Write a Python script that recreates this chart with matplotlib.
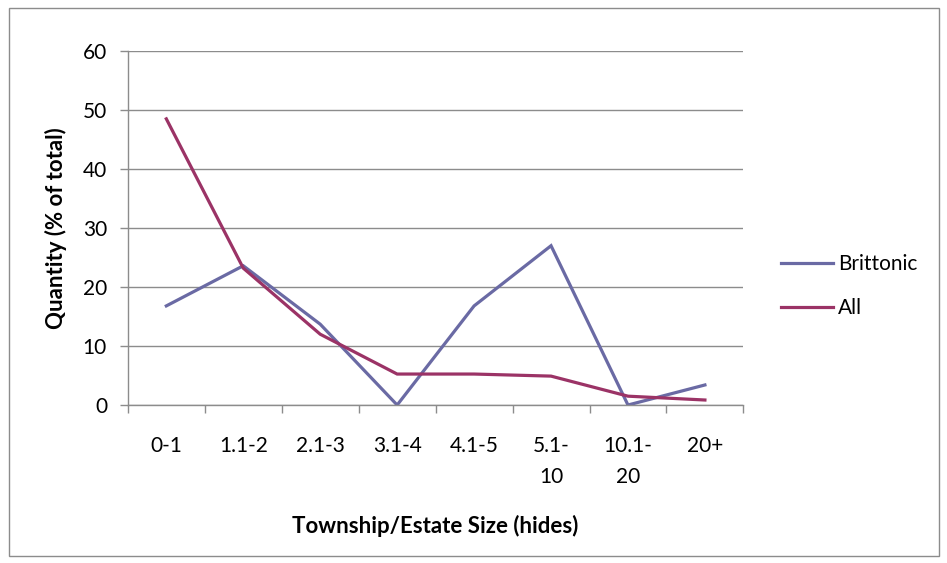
import numpy as np
import matplotlib
matplotlib.use("Agg")
import matplotlib.pyplot as plt
from matplotlib.patches import Rectangle

plt.rcParams['font.family'] = ['Lato', 'DejaVu Sans']

# data
categories = ["0-1", "1.1-2", "2.1-3", "3.1-4", "4.1-5", "5.1-\n10", "10.1-\n20", "20+"]
brittonic = [16.8, 23.6, 13.7, 0.0, 16.8, 27.0, 0.0, 3.4]
all_sites = [48.5, 23.2, 12.0, 5.25, 5.25, 4.9, 1.5, 0.85]

BLUE = "#6A6AA4"
MAROON = "#9B3366"
GRID = "#8C8C8C"
FS = 15

fig = plt.figure(figsize=(9.47, 5.63), dpi=100)
ax = fig.add_axes([0.135, 0.2806, 0.65, 0.6288])

x = np.arange(len(categories))
ax.plot(x, brittonic, color=BLUE, lw=2.3, label="Brittonic", solid_joinstyle="miter")
ax.plot(x, all_sites, color=MAROON, lw=2.3, label="All", solid_joinstyle="miter")

ax.set_xlim(-0.5, len(categories) - 0.5)
ax.set_ylim(0, 60)
ax.set_yticks(np.arange(0, 61, 10))
ax.yaxis.grid(True, color=GRID, lw=1)
ax.set_axisbelow(True)

ax.set_xticks(x)
ax.set_xticklabels(categories, fontsize=FS, linespacing=1.7, va="top")
ax.set_xticks(np.arange(-0.5, len(categories)), minor=True)
ax.tick_params(axis="x", which="major", length=0, pad=22)
ax.tick_params(axis="x", which="minor", length=6, color=GRID, width=1)
ax.tick_params(axis="y", length=6, color=GRID, width=1, labelsize=FS, pad=9)

for side in ("top", "right"):
    ax.spines[side].set_visible(False)
for side in ("left", "bottom"):
    ax.spines[side].set_color(GRID)
    ax.spines[side].set_linewidth(1)

ax.set_ylabel("Quantity (% of total)", fontsize=16, fontweight="bold", labelpad=11)
ax.set_xlabel("Township/Estate Size (hides)", fontsize=16, fontweight="bold", labelpad=20)

ax.legend(loc="center left", bbox_to_anchor=(1.03, 0.336), frameon=False,
          fontsize=FS, handlelength=2.5, handletextpad=0.25, labelspacing=1.15)

fig.patches.append(Rectangle((0.009, 0.013), 0.983, 0.973, transform=fig.transFigure,
                             fill=False, edgecolor=GRID, lw=1))

fig.savefig("out.png", dpi=100)
